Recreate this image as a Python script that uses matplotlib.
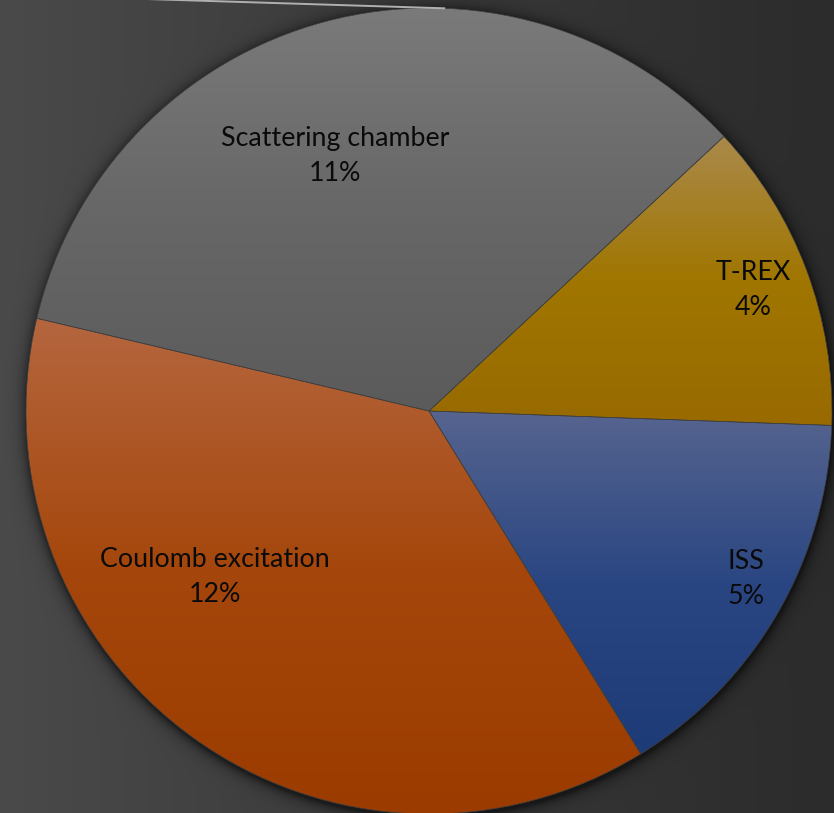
"""Secondary pie of beam-time shares per setup, dark gradient style."""
import numpy as np
import matplotlib.pyplot as plt
from matplotlib.colors import to_rgb

W, H, DPI = 834, 813, 100

# shares of total beam time (percent), counter-clockwise from ISS
labels = ["ISS", "T-REX", "Scattering chamber", "Coulomb excitation"]
shares = [5, 4, 11, 12]

# gradient stops per slice: top tint, base, bottom shade
tints = ["#56648f", "#aa8a4c", "#7a7a7a", "#b5663f"]
bases = ["#2a4682", "#a07600", "#676767", "#a5470c"]
shades = ["#1d3b77", "#986a00", "#5b5b5b", "#9b3b00"]

# label anchors as (angle deg, fraction of radius) from the pie centre
label_pos = [(-28.0, 0.89), (20.5, 0.86), (110.2, 0.675), (-142.3, 0.672)]

CX, CY, R = 429, H - 411, 403
START = -58.3

plt.rcParams["font.family"] = ["Lato", "DejaVu Sans"]

fig = plt.figure(figsize=(W / DPI, H / DPI), dpi=DPI)
ax = fig.add_axes([0, 0, 1, 1])

# background: left-to-right grey gradient with a soft shadow under the pie
xx, yy = np.meshgrid(np.arange(W) + 0.5, np.arange(H) + 0.5)
bg = 44 + 30 * (1 - xx / W) ** 1.15
d = np.hypot(xx - (CX + 1), yy - (H - CY + 3)) - R
shadow = np.where(d > 0, 0.55 * np.exp(-d / 6.0), 0.55)
bg = bg * (1 - shadow) / 255.0
ax.imshow(np.dstack([bg, bg, bg]), extent=[0, W, 0, H], origin="upper",
          zorder=0, interpolation="bilinear")

wedges, _ = ax.pie(shares, startangle=START, counterclock=True,
                   center=(CX, CY), radius=R, frame=True,
                   wedgeprops=dict(facecolor="none", edgecolor="#404040",
                                   linewidth=0.5, zorder=3))
ax.set_xlim(0, W)
ax.set_ylim(0, H)
ax.set_aspect("equal")
ax.axis("off")


def vertical_gradient(top, mid, bot, n=256):
    t = np.linspace(0, 1, n)[:, None]
    top, mid, bot = (np.array(to_rgb(c)) for c in (top, mid, bot))
    upper = top + (mid - top) * np.clip(t / 0.5, 0, 1)
    lower = mid + (bot - mid) * np.clip((t - 0.5) / 0.5, 0, 1)
    return np.where(t < 0.5, upper, lower)[:, None, :]


for w, c0, c1, c2 in zip(wedges, tints, bases, shades):
    ext = w.get_path().get_extents()
    im = ax.imshow(vertical_gradient(c0, c1, c2),
                   extent=[ext.x0, ext.x1, ext.y0, ext.y1],
                   origin="upper", aspect="auto", zorder=2,
                   interpolation="bilinear")
    im.set_clip_path(w)

for name, val, (ang, frac) in zip(labels, shares, label_pos):
    a = np.deg2rad(ang)
    ax.text(CX + frac * R * np.cos(a), CY + frac * R * np.sin(a),
            f"{name}\n{val:.0f}%", ha="center", va="center",
            fontsize=19.3, color="#0a0a0a", linespacing=1.5, zorder=5)

# connector line from the primary pie, meeting the top of this one
ca = np.deg2rad(87.7)
x_end, y_end = CX + R * np.cos(ca), CY + R * np.sin(ca)
ax.plot([x_end, x_end - 300], [y_end, y_end + 300 * 7 / 225],
        color="#b0b0b0", linewidth=1.4, zorder=4, solid_capstyle="butt")

fig.savefig("out.png", dpi=DPI)
